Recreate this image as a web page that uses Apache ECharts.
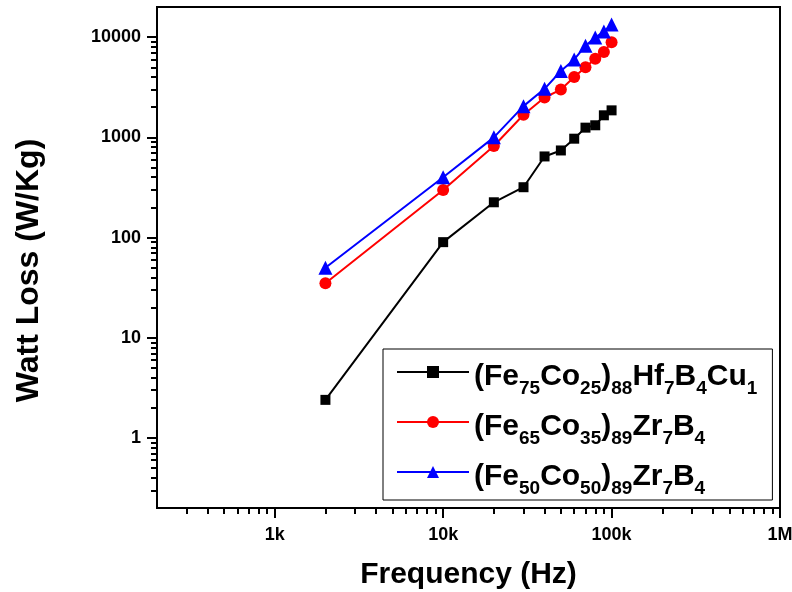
<!DOCTYPE html>
<html>
<head>
<meta charset="utf-8">
<script src="https://cdn.jsdelivr.net/npm/echarts@6/dist/echarts.min.js"></script>
<style>
  html, body { margin: 0; padding: 0; background: #fff; }
  #chart { width: 792px; height: 592px; }
</style>
</head>
<body>
<div id="chart"></div>
<script>
// frequency (Hz)
var freq = [2000, 10000, 20000, 30000, 40000, 50000, 60000, 70000, 80000, 90000, 100000];
// watt loss (W/Kg)
var lossHf = [2.4, 90, 225, 318, 645, 740, 970, 1250, 1320, 1660, 1860];
var lossZr35 = [35, 298, 820, 1680, 2500, 3000, 4000, 5000, 6100, 7100, 8900];
var lossZr50 = [50, 400, 1000, 2050, 3050, 4600, 6000, 8200, 9900, 11400, 13400];

var seriesNames = ['(Fe75Co25)88Hf7B4Cu1', '(Fe65Co35)89Zr7B4', '(Fe50Co50)89Zr7B4'];

var xMajor = [1000, 10000, 100000, 1000000];
var xMinor = [300, 400, 500, 600, 700, 800, 900,
  2000, 3000, 4000, 5000, 6000, 7000, 8000, 9000,
  20000, 30000, 40000, 50000, 60000, 70000, 80000, 90000,
  200000, 300000, 400000, 500000, 600000, 700000, 800000, 900000];
var xLabels = { 1000: '1k', 10000: '10k', 100000: '100k', 1000000: '1M' };

var yMajor = [1, 10, 100, 1000, 10000];
var yMinor = [0.3, 0.4, 0.5, 0.6, 0.7, 0.8, 0.9,
  2, 3, 4, 5, 6, 7, 8, 9,
  20, 30, 40, 50, 60, 70, 80, 90,
  200, 300, 400, 500, 600, 700, 800, 900,
  2000, 3000, 4000, 5000, 6000, 7000, 8000, 9000];

var font = 'Liberation Sans';

function pairs(ys) {
  return freq.map(function (f, i) { return [f, ys[i]]; });
}

// chemical formula -> rich text, numbers become subscripts
function formula(name) {
  return '{m|' + name.replace(/(\d+)/g, '}{s|$1}{m|') + '}';
}

var myChart = echarts.init(document.getElementById('chart'), null, { renderer: 'canvas' });

var option = {
  animation: false,
  grid: {
    left: 157, top: 7, right: 12, bottom: 84,
    show: true, borderColor: '#000', borderWidth: 2,
    outerBoundsMode: 'none'
  },
  legend: {
    left: 383, top: 349,
    orient: 'vertical',
    padding: [8, 15, 2, 13],
    itemGap: 9,
    itemWidth: 72,
    itemHeight: 15,
    borderColor: '#000',
    borderWidth: 1,
    data: seriesNames,
    formatter: formula,
    textStyle: {
      rich: {
        m: { fontFamily: font, fontWeight: 'bold', fontSize: 30, lineHeight: 30, color: '#000', padding: [5, 0, 0, 0], verticalAlign: 'top' },
        s: { fontFamily: font, fontWeight: 'bold', fontSize: 19, lineHeight: 19, color: '#000', padding: [22, 0, 0, 0], verticalAlign: 'top' }
      }
    }
  },
  xAxis: [
    {
      type: 'log', logBase: 10, min: 200, max: 1000000,
      position: 'bottom',
      name: 'Frequency (Hz)',
      nameLocation: 'middle',
      nameGap: 52,
      nameTextStyle: { fontFamily: font, fontWeight: 'bold', fontSize: 30, color: '#000', verticalAlign: 'top' },
      axisLine: { lineStyle: { color: '#000', width: 2 } },
      axisTick: { inside: false, length: 10, lineStyle: { width: 2, color: '#000' }, customValues: xMajor },
      axisLabel: {
        margin: 18, fontFamily: font, fontWeight: 'bold', fontSize: 18, color: '#000',
        customValues: xMajor,
        formatter: function (v) { return xLabels[Math.round(v)] || ''; }
      },
      splitLine: { show: false }
    },
    {
      type: 'log', logBase: 10, min: 200, max: 1000000,
      position: 'bottom',
      axisLine: { show: false },
      axisTick: { inside: false, length: 6, lineStyle: { width: 2, color: '#000' }, customValues: xMinor },
      axisLabel: { show: false },
      splitLine: { show: false }
    }
  ],
  yAxis: [
    {
      type: 'log', logBase: 10, min: 0.2, max: 20000,
      position: 'left',
      name: 'Watt Loss (W/Kg)',
      nameLocation: 'middle',
      nameGap: 112,
      nameTextStyle: { fontFamily: font, fontWeight: 'bold', fontSize: 32, color: '#000', padding: [0, 26, 0, 0] },
      axisLine: { lineStyle: { color: '#000', width: 2 } },
      axisTick: { inside: false, length: 10, lineStyle: { width: 2, color: '#000' }, customValues: yMajor },
      axisLabel: {
        margin: 16, fontFamily: font, fontWeight: 'bold', fontSize: 18, color: '#000',
        customValues: yMajor,
        formatter: function (v) { return String(Math.round(v)); }
      },
      splitLine: { show: false }
    },
    {
      type: 'log', logBase: 10, min: 0.2, max: 20000,
      position: 'left',
      axisLine: { show: false },
      axisTick: { inside: false, length: 6, lineStyle: { width: 2, color: '#000' }, customValues: yMinor },
      axisLabel: { show: false },
      splitLine: { show: false }
    }
  ],
  series: [
    {
      name: seriesNames[0], type: 'line', data: pairs(lossHf),
      symbol: 'rect', symbolSize: 10,
      lineStyle: { color: '#000', width: 2 },
      itemStyle: { color: '#000' }
    },
    {
      name: seriesNames[1], type: 'line', data: pairs(lossZr35),
      symbol: 'circle', symbolSize: 12,
      lineStyle: { color: '#ff0000', width: 2 },
      itemStyle: { color: '#ff0000' }
    },
    {
      name: seriesNames[2], type: 'line', data: pairs(lossZr50),
      symbol: 'triangle', symbolSize: 14,
      lineStyle: { color: '#0000ff', width: 2 },
      itemStyle: { color: '#0000ff' }
    }
  ]
};

myChart.setOption(option);
</script>
</body>
</html>
